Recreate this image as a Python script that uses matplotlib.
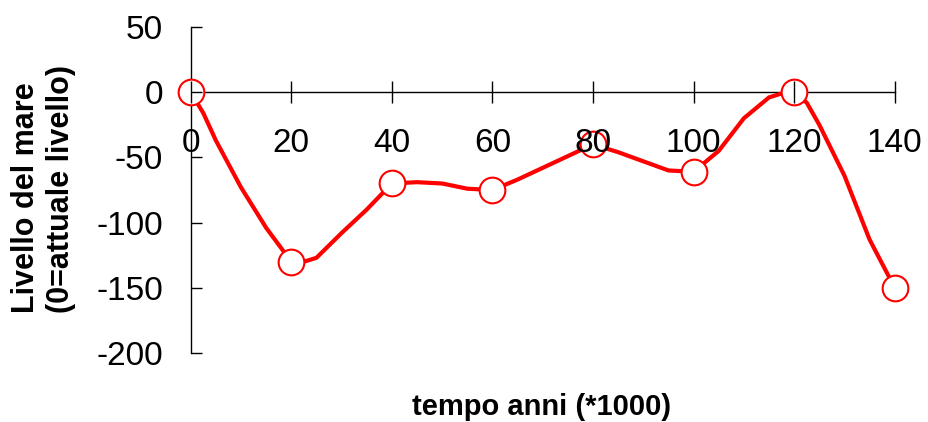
import matplotlib
matplotlib.use('Agg')
import matplotlib.pyplot as plt

plt.rcParams['font.family'] = ['Liberation Sans', 'DejaVu Sans']
plt.rcParams['axes.unicode_minus'] = False

anni_linea = [0, 2.5, 5, 10, 15, 20, 22.5, 25, 30, 35, 40, 45, 50, 55, 60, 65, 70,
              75, 80, 85, 90, 95, 100, 105, 110, 115, 117.5, 120, 122.5, 125, 130, 135, 140]
livello_linea = [0, -16, -37, -73, -104, -130, -130, -127, -108, -90, -70, -69, -70, -74, -75, -67, -58,
                 -49, -40, -46, -53, -60, -61, -45, -20, -4, -1, 0, -8, -25, -64, -113, -150]

# punti marcati
anni_punti = [0, 20, 40, 60, 80, 100, 120, 140]
livello_punti = [0, -130, -70, -75, -40, -61, 0, -150]

x_ticks = [0, 20, 40, 60, 80, 100, 120, 140]
y_ticks = [-200, -150, -100, -50, 0, 50]

fig = plt.figure(figsize=(9.29, 4.22), dpi=100)
ax = fig.add_axes([0.2053, 0.1635, 0.7578, 0.7725])

ax.plot(anni_linea, livello_linea, color='#ff0000', lw=3, zorder=2,
        solid_joinstyle='round', solid_capstyle='round')
ax.plot(anni_punti, livello_punti, linestyle='none', marker='o', ms=18.5,
        markerfacecolor='white', markeredgecolor='#ff0000', markeredgewidth=1.5,
        zorder=2.2, clip_on=False)

ax.set_xlim(0, 140)
ax.set_ylim(-200, 50)
ax.set_xticks(x_ticks)
ax.set_yticks(y_ticks)
ax.set_axisbelow(False)

for s in ['top', 'right']:
    ax.spines[s].set_visible(False)
ax.spines['bottom'].set_position(('data', 0))
for s in ['left', 'bottom']:
    ax.spines[s].set_linewidth(1.0)
    ax.spines[s].set_zorder(1.5)

ax.tick_params(axis='x', direction='inout', length=16, width=1.0, pad=18, labelsize=24)
ax.tick_params(axis='y', direction='in', length=8, width=1.0, pad=20, labelsize=24)

fig.text(0.0468, 0.551, 'Livello del mare\n(0=attuale livello)', rotation=90,
         ha='center', va='center', multialignment='left', fontsize=22, fontweight='bold')
fig.text(0.5834, 0.0355, 'tempo anni (*1000)', ha='center', va='center',
         fontsize=21, fontweight='bold')

fig.savefig('out.png', dpi=100)
